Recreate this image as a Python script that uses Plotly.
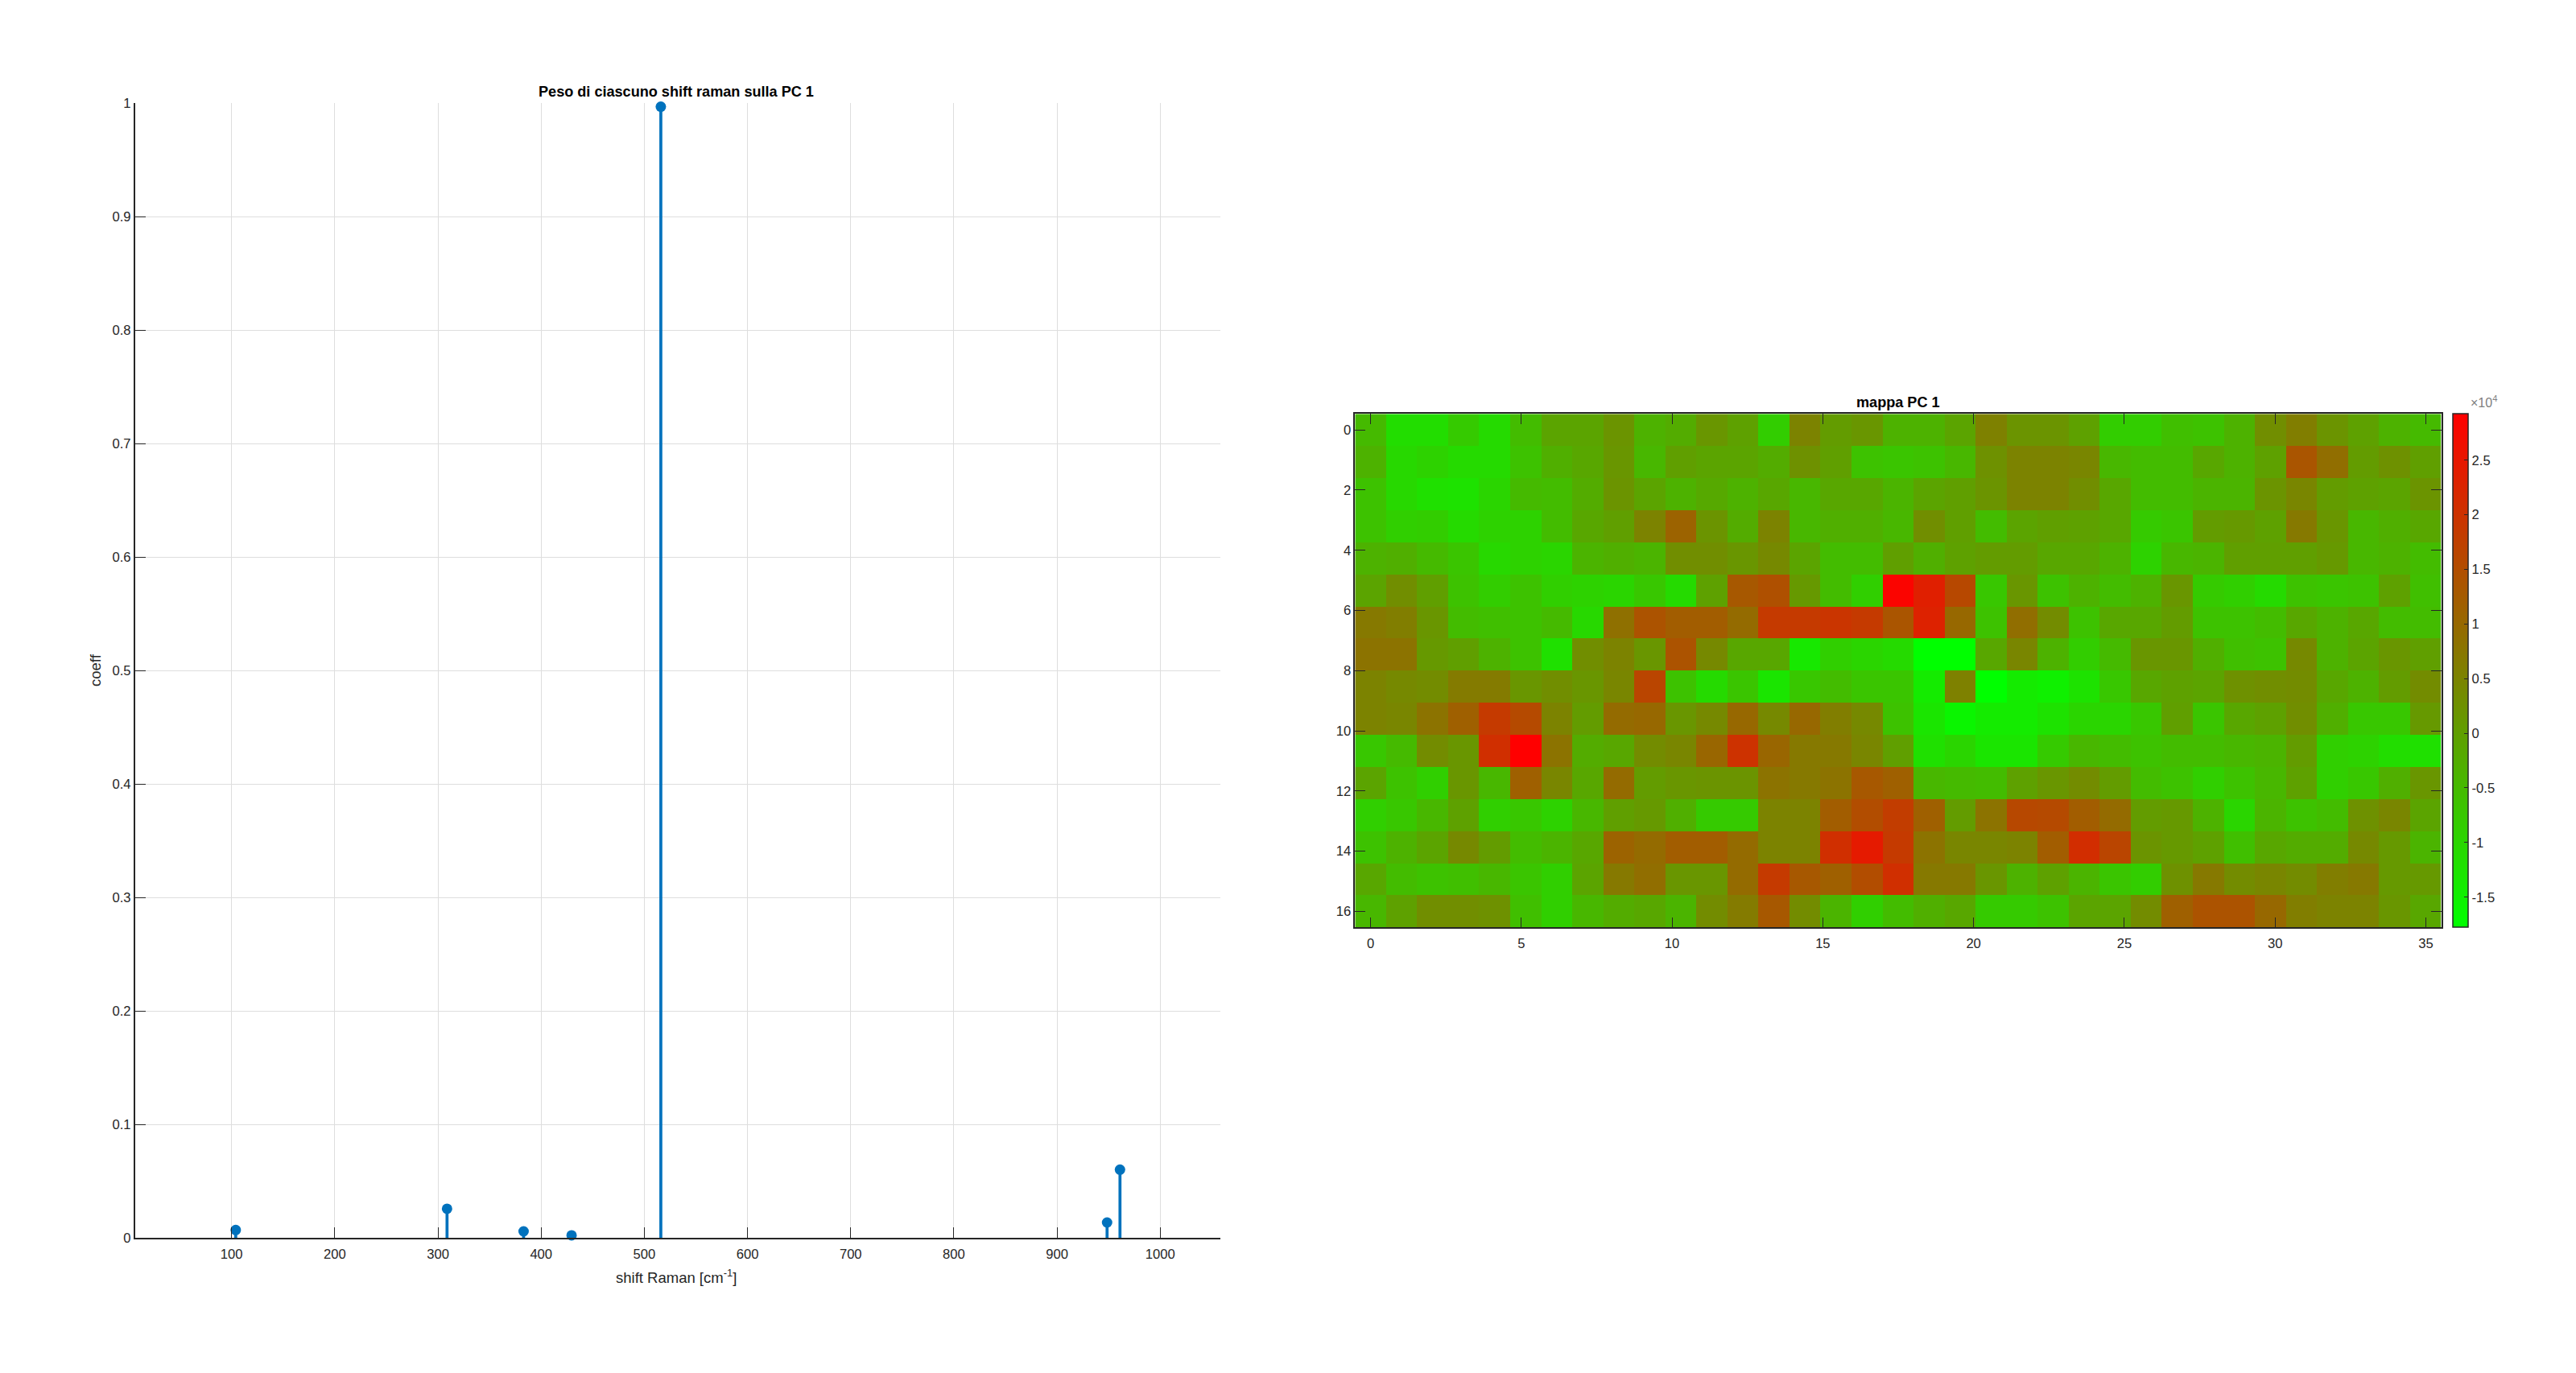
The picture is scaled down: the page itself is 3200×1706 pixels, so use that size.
import numpy as np
import plotly.graph_objects as go

W, H = 3200, 1706

# ---- stem data
shift_raman = [104, 308.8, 383, 429.5, 516, 948.5, 961]
coeff = [0.0071, 0.0258, 0.0059, 0.0024, 0.997, 0.0137, 0.0603]
stem_xticks = [100, 200, 300, 400, 500, 600, 700, 800, 900, 1000]
stem_yticks = [0, 0.1, 0.2, 0.3, 0.4, 0.5, 0.6, 0.7, 0.8, 0.9, 1]
stem_ylabels = ["0", "0.1", "0.2", "0.3", "0.4", "0.5", "0.6", "0.7", "0.8", "0.9", "1"]

# ---- map data (units of 1e4)
row_00 = [-.5,-1.15,-1.15,-.8,-1.1,-.55,-.1,-.1,.2,-.35,-.25,.15,-.05,-.85,.5,.05,.15,-.35,-.35,-.1,.55,.2,.2,-.05,-.85,-.85,-.6,-.65,-.35,.3,.6,.2,-.05,-.35,-.5]
row_01 = [-.35,-1.05,-.95,-1.1,-1.1,-.65,-.3,-.15,.15,-.45,0,-.1,-.1,-.25,.25,0,-.65,-.7,-.65,-.45,.25,.5,.5,.45,-.45,-.55,-.55,-.15,-.35,-.05,1.35,.9,.05,.25,0]
row_02 = [-.65,-1.05,-1.2,-1.25,-1.0,-.5,-.55,-.25,.2,-.1,-.35,-.2,-.35,-.15,-.45,-.15,-.15,-.4,-.1,0,.2,.5,.5,.3,-.15,-.55,-.55,-.4,-.4,.2,.45,.05,-.05,-.1,.2]
row_03 = [-.65,-.9,-.85,-1.1,-.95,-.95,-.55,-.15,0,.5,1.1,.2,-.25,.5,-.45,-.3,-.3,-.45,.3,0,-.55,-.1,0,-.05,-.15,-.8,-.7,.05,.1,-.05,.7,.15,-.45,-.3,-.15]
row_04 = [-.35,-.3,-.5,-.7,-1.05,-.95,-1.0,-.4,-.3,-.4,.3,.3,.15,.4,-.1,-.55,-.55,0,-.3,-.05,.05,.05,-.15,-.15,-.35,-.95,-.45,-.4,0,0,0,.1,-.45,-.35,-.55]
row_05 = [-.1,.3,0,-.65,-.85,-.65,-.9,-.95,-1.0,-.75,-1.1,-.05,1.3,1.45,.1,-.55,-.9,2.85,2.35,1.6,-.75,.15,-.65,-.35,-.55,-.35,.15,-.8,-.9,-1.1,-.65,-.7,-.65,-.05,-.6]
row_06 = [.7,.6,.15,-.55,-.6,-.65,-.5,-1.05,.85,1.4,1.2,1.2,.95,1.85,1.85,1.95,1.85,1.35,2.3,1.0,-.65,.9,.35,-.65,-.15,-.15,.05,-.65,-.65,-.55,-.15,-.35,-.15,-.55,-.55]
row_07 = [.8,.8,.1,0,-.35,-.65,-1.2,.3,.5,.15,1.4,.4,-.15,-.15,-1.35,-.9,-1.0,-1.1,-1.78,-1.78,-.15,.45,-.35,-.85,-.5,.15,.15,-.3,-.6,-.65,.4,-.35,-.1,.15,0]
row_08 = [.5,.4,.35,.65,.65,.15,.3,.15,.45,1.65,-.65,-1.1,-.7,-1.3,-.75,-.55,-.7,-.7,-1.4,.55,-1.78,-1.4,-1.5,-1.25,-.75,-.15,-.05,-.1,.25,.3,.35,-.15,-.35,.05,.35]
row_09 = [.5,.45,.8,1.15,1.85,1.55,.5,.05,.95,1.0,.15,.4,1.0,.4,1.0,.6,.4,-.65,-1.3,-1.6,-1.4,-1.4,-1.25,-1.0,-1.0,-.75,0,-.7,-.15,-.05,.3,-.3,-.75,-.75,.1]
row_10 = [-.75,-.5,.35,.15,2.05,2.92,.8,-.25,-.15,.35,.45,1.05,2.0,1.05,.7,.7,.45,0,-1.2,-1.0,-1.3,-1.3,-.8,-.45,-.55,-.65,-.55,-.55,-.45,-.4,.05,-.9,-.95,-1.15,-1.2]
row_11 = [-.1,-.65,-.9,.15,-.45,1.15,.45,-.15,.95,.05,.15,.2,.2,.8,.7,.8,1.3,1.15,-.45,-.5,-.55,-.05,.15,.35,.05,-.55,-.65,-.9,-.65,-.45,-.05,-.9,-.75,-.3,.15]
row_12 = [-.9,-.75,-.45,-.05,-.9,-.75,-.95,-.45,0,.1,-.3,-.8,-.8,.5,.5,1.2,1.5,1.8,1.15,.05,.8,1.6,1.55,1.2,.95,.05,.1,-.35,-1.0,-.4,-.65,-.55,.25,.45,-.1]
row_13 = [-.65,-.35,-.1,.4,.05,-.55,-.4,-.15,1.1,.95,1.2,1.2,.95,.5,.5,2.05,2.45,1.85,.8,.45,.45,.5,1.2,2.1,1.65,.2,.1,-.05,-.6,-.15,-.25,-.25,.4,.1,-.4]
row_14 = [-.15,-.55,-.65,-.6,-.45,-.7,-.9,-.1,.7,.9,.15,.15,.95,1.85,1.3,1.15,1.5,2.05,.7,.7,.15,-.35,-.05,-.4,-.7,-.85,.25,.7,.35,.45,.35,.6,.7,.1,.1]
row_15 = [-.45,-.05,.3,.3,.25,-.6,-.9,-.45,-.25,-.15,-.4,.35,.65,1.3,.35,-.4,-.9,-.55,-.3,-.15,-.8,-.8,-.65,-.1,-.1,.35,1.15,1.4,1.4,1.0,.6,.5,.5,.15,-.15]
map_rows = [row_00,row_01,row_02,row_03,row_04,row_05,row_06,row_07,row_08,row_09,row_10,row_11,row_12,row_13,row_14,row_15]
map_xticks = [0, 5, 10, 15, 20, 25, 30, 35]
map_yticks = [0, 2, 4, 6, 8, 10, 12, 14, 16]
cbar_ticks = [-1.5, -1, -0.5, 0, 0.5, 1, 1.5, 2, 2.5]
cbar_labels = ["-1.5", "-1", "-0.5", "0", "0.5", "1", "1.5", "2", "2.5"]
z_min, z_max = -1.777, 2.923

INK = "#262626"
BLUE = "#0072BD"
FONT = "Liberation Sans"
TICK = dict(family=FONT, size=16.6, color=INK)
GRID = "#dedede"


def fx(px):
    return px / W


def fy(px):
    return 1 - px / H


fig = go.Figure()

# stems
stem_x, stem_y = [], []
for sx, sy in zip(shift_raman, coeff):
    stem_x += [sx, sx, None]
    stem_y += [0, sy, None]
fig.add_trace(go.Scatter(x=stem_x, y=stem_y, mode="lines", line=dict(color=BLUE, width=3.7),
                         showlegend=False, hoverinfo="skip", cliponaxis=False, xaxis="x", yaxis="y"))
fig.add_trace(go.Scatter(x=shift_raman, y=coeff, mode="markers", marker=dict(color=BLUE, size=13),
                         showlegend=False, cliponaxis=False, xaxis="x", yaxis="y"))

# map
fig.add_trace(go.Heatmap(
    z=map_rows,
    x=np.linspace(0, 35, 35),
    y=np.linspace(0, 16, 16),
    zmin=z_min, zmax=z_max, zsmooth=False,
    colorscale=[[0, "rgb(0,255,0)"], [1, "rgb(255,0,0)"]],
    xaxis="x2", yaxis="y2",
    colorbar=dict(
        x=fx(3047), xanchor="left", xpad=0, ypad=0,
        y=fy(1152.3), yanchor="bottom",
        lenmode="fraction", len=(1152.3 - 514.3) / H,
        thicknessmode="pixels", thickness=19.3,
        ticks="inside", ticklen=5, tickwidth=1, tickcolor=INK,
        tickmode="array", tickvals=cbar_ticks, ticktext=cbar_labels,
        tickfont=TICK, outlinecolor=INK, outlinewidth=1.5,
    ),
))

fig.update_layout(
    width=W, height=H, margin=dict(l=0, r=0, t=0, b=0, pad=0, autoexpand=False),
    paper_bgcolor="white", plot_bgcolor="white", autosize=False, showlegend=False,
    font=dict(family=FONT, color=INK),
    xaxis=dict(domain=[fx(167.6), fx(1516)], range=[6.3, 1058.3], tickmode="array", tickvals=stem_xticks,
               ticks="inside", ticklen=14, tickwidth=1, tickcolor=INK, showline=True, linecolor=INK, linewidth=1.5,
               showgrid=True, gridcolor=GRID, gridwidth=1, zeroline=False, tickfont=TICK, anchor="y",
               ticklabelstandoff=4),
    yaxis=dict(domain=[fy(1538.3), fy(128.3)], range=[0, 1], tickmode="array", tickvals=stem_yticks,
               ticktext=stem_ylabels, ticks="inside", ticklen=14, tickwidth=1, tickcolor=INK, showline=True,
               linecolor=INK, linewidth=1.5, showgrid=True, gridcolor=GRID, gridwidth=1, zeroline=False,
               tickfont=TICK, anchor="x"),
    xaxis2=dict(domain=[fx(1683.3), fx(3032.7)], range=[-0.5147, 35.5147], tickmode="array", tickvals=map_xticks,
                ticks="inside", ticklen=13, tickwidth=1, tickcolor=INK, showline=True, linecolor=INK, linewidth=1.5,
                mirror="ticks", showgrid=False, zeroline=False, tickfont=TICK, anchor="y2", ticklabelstandoff=4),
    yaxis2=dict(domain=[fy(1152.3), fy(514.3)], range=[16.533, -0.533], tickmode="array", tickvals=map_yticks,
                ticks="inside", ticklen=13, tickwidth=1, tickcolor=INK, showline=True, linecolor=INK, linewidth=1.5,
                mirror="ticks", showgrid=False, zeroline=False, tickfont=TICK, anchor="x2"),
)


def note(text, px, py, size, color=INK, bold=False, angle=0, xanchor="center"):
    fig.add_annotation(text=f"<b>{text}</b>" if bold else text, xref="paper", yref="paper", x=fx(px), y=fy(py),
                       xanchor=xanchor, yanchor="middle", showarrow=False, textangle=angle,
                       font=dict(family=FONT, size=size, color=color))


note("Peso di ciascuno shift raman sulla PC 1", 840.5, 114, 18.1, color="black", bold=True)
note("mappa PC 1", 2358, 500, 18.1, color="black", bold=True)
note("shift Raman [cm<sup>-1</sup>]", 840, 1586, 18.5)
note("coeff", 118, 833, 18.5, angle=-90)
note("×10<sup>4</sup>", 3067, 499, 16, color="#808080", xanchor="left")

fig.write_html("out.html", config={"displayModeBar": False}, post_script="document.body.style.margin='0';")
